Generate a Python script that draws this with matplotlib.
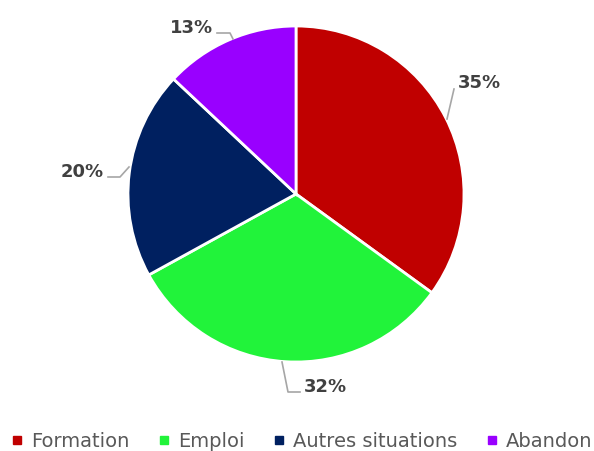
import matplotlib
matplotlib.use('Agg')
import matplotlib.pyplot as plt
from matplotlib.lines import Line2D

categories = ['Formation', 'Emploi', 'Autres situations', 'Abandon']
values = [35, 32, 20, 13]
colors = ['#C00000', '#21F33A', '#002060', '#9900FF']

fig = plt.figure(figsize=(5.94, 4.52), dpi=100)
# pie centre at (296, 195) px, radius 168 px
ax = fig.add_axes([(296 - 168) / 594, (257 - 168) / 452, 336 / 594, 336 / 452])
wedges, _ = ax.pie(values, colors=colors, startangle=90, counterclock=False,
                   radius=1.0, wedgeprops=dict(edgecolor='white', linewidth=2))
ax.set_xlim(-1, 1)
ax.set_ylim(-1, 1)
ax.set_aspect('equal')
ax.axis('off')

def px(x, y):
    return ((x - 296) / 168, (195 - y) / 168)

# label positions and leader lines (pixel coords)
labels = [f'{v}%' for v in values]
text_pos = [(479, 83), (325, 387), (82, 172), (191, 28)]
leaders = [
    [(454, 90), (447, 120)],
    [(282, 363), (288, 393), (300, 393)],
    [(108, 178), (120, 178), (129, 168)],
    [(217, 34), (230, 34), (233, 40)],
]
for lab, (tx, ty), pts in zip(labels, text_pos, leaders):
    x, y = px(tx, ty)
    ax.text(x, y, lab, ha='center', va='center', fontsize=13,
            fontweight='bold', color='#404040', clip_on=False)
    xs, ys = zip(*[px(a, b) for a, b in pts])
    ax.plot(xs, ys, color='#A6A6A6', linewidth=1.2, clip_on=False)

handles = [Line2D([], [], marker='s', linestyle='none', markersize=6,
                  markerfacecolor=c, markeredgecolor=c) for c in colors]
leg = fig.legend(handles, categories, loc='center', bbox_to_anchor=(0.508, 1 - 442 / 452),
                 ncol=4, frameon=False, fontsize=14, handlelength=0.6,
                 handletextpad=0.4, columnspacing=1.5, borderaxespad=0)
for t in leg.get_texts():
    t.set_color('#595959')

fig.savefig('out.png', dpi=100)
